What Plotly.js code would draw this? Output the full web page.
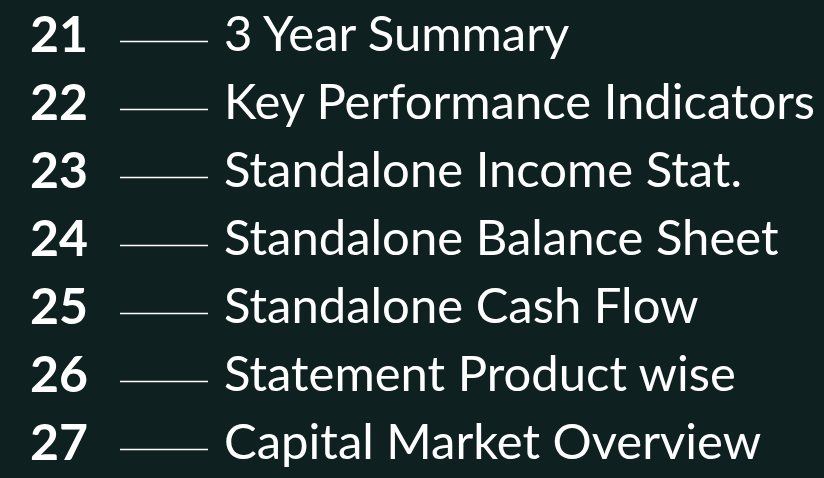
<!DOCTYPE html>
<html>
<head>
<meta charset="utf-8">
<script src="https://cdn.plot.ly/plotly-3.0.1.min.js"></script>
<style>
  html, body { margin: 0; padding: 0; background: #0f2021; }
  #chart { width: 824px; height: 478px; }
</style>
</head>
<body>
<div id="chart"></div>
<script>
// ---- data ----
const pageNumbers = ["21", "22", "23", "24", "25", "26", "27"];
const sectionTitles = [
  "3 Year Summary",
  "Key Performance Indicators",
  "Standalone Income Stat.",
  "Standalone Balance Sheet",
  "Standalone Cash Flow",
  "Statement Product wise",
  "Capital Market Overview"
];
const rowIndex = pageNumbers.map((_, i) => i);

// ---- layout constants ----
const NUM_X = 30;
const LINE_X0 = 120, LINE_X1 = 208;
const TITLE_X = 224;
const LINE_DY = 0.037;
const ROW_TOP = 39, ROW_STEP = 68;

const lineX = [], lineY = [];
rowIndex.forEach(i => {
  lineX.push(LINE_X0, LINE_X1, null);
  lineY.push(i + LINE_DY, i + LINE_DY, null);
});

const traces = [
  {
    type: "scatter", mode: "text",
    x: rowIndex.map(() => NUM_X), y: rowIndex,
    text: pageNumbers, textposition: "middle right",
    textfont: { family: "Lato, 'Open Sans', sans-serif", size: 50, color: "#ffffff", weight: 700 },
    hoverinfo: "skip", cliponaxis: false
  },
  {
    type: "scatter", mode: "lines",
    x: lineX, y: lineY,
    line: { color: "#ffffff", width: 1.7 },
    hoverinfo: "skip"
  },
  {
    type: "scatter", mode: "text",
    x: rowIndex.map(() => TITLE_X), y: rowIndex,
    text: sectionTitles, textposition: "middle right",
    textfont: { family: "Lato, 'Open Sans', sans-serif", size: 49, color: "#ffffff" },
    hoverinfo: "skip", cliponaxis: false
  }
];

const layout = {
  width: 824, height: 478,
  margin: { l: 0, r: 0, t: 0, b: 0, pad: 0 },
  paper_bgcolor: "#0f2021",
  plot_bgcolor: "#0f2021",
  showlegend: false,
  xaxis: { range: [0, 824], visible: false, fixedrange: true },
  yaxis: { range: [(478 - ROW_TOP) / ROW_STEP, -ROW_TOP / ROW_STEP], visible: false, fixedrange: true }
};

Plotly.newPlot("chart", traces, layout, { displayModeBar: false, staticPlot: true });
</script>
</body>
</html>
